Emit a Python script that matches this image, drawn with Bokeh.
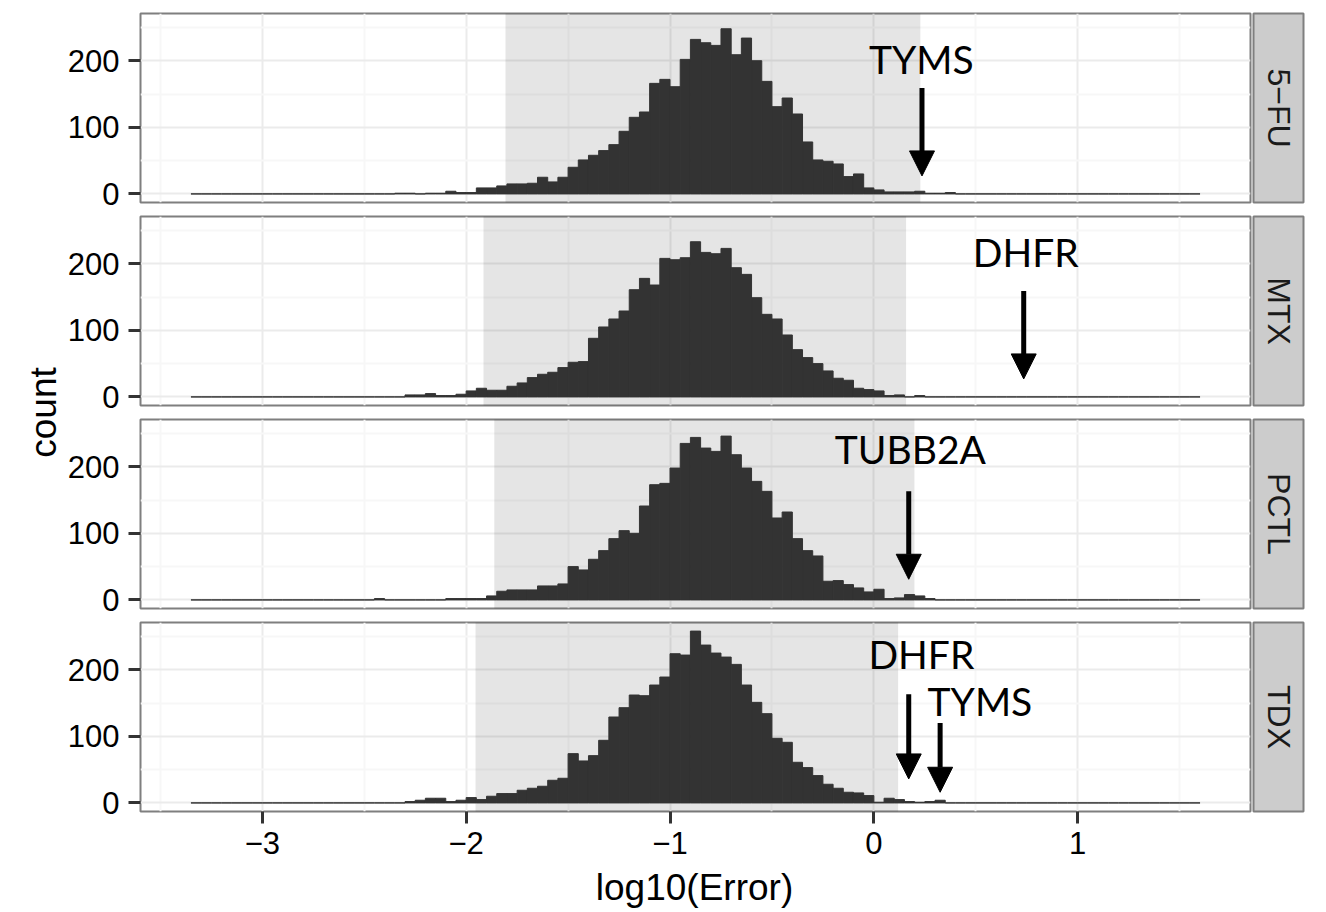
import math
from bokeh.plotting import figure
from bokeh.layouts import row, column
from bokeh.models import Range1d, FixedTicker, Arrow, NormalHead
from bokeh.core.properties import value
from bokeh.embed import file_html
from bokeh.resources import INLINE

# ---------------- data ----------------
DRUGS = ["5\u2212FU", "MTX", "PCTL", "TDX"]

BIN_WIDTH = 0.05
HIST_START = -3.35      # first bin left edge (all panels share the bins)
HIST_END = 1.60         # last bin right edge
WINDOW_START = -2.45    # left edge of the first bin listed below (others are 0)

COUNTS_5FU = [0, 0, 1, 1, 0, 1, 1, 4, 2, 2, 9, 9, 12, 15, 15, 16, 25, 18, 25, 40,
              51, 58, 65, 74, 94, 115, 123, 166, 172, 161, 202, 232, 227, 223, 248,
              209, 234, 200, 169, 131, 144, 120, 78, 51, 49, 45, 26, 30, 9, 6,
              3, 3, 3, 4, 1, 1, 2, 0]
COUNTS_MTX = [0, 0, 0, 3, 3, 5, 2, 2, 4, 9, 13, 10, 10, 16, 21, 29, 34, 37, 44, 52,
              53, 88, 105, 117, 129, 161, 178, 168, 208, 206, 209, 233, 217, 215, 223,
              194, 184, 149, 124, 117, 93, 71, 59, 50, 39, 28, 25, 13, 11, 9,
              2, 3, 0, 2, 0, 0, 0, 0]
COUNTS_PCTL = [2, 0, 0, 0, 0, 0, 0, 2, 2, 2, 2, 6, 13, 15, 15, 15, 21, 21, 24, 50,
               45, 61, 74, 92, 104, 100, 141, 173, 175, 198, 235, 244, 228, 223, 246,
               218, 198, 178, 163, 123, 132, 92, 74, 66, 28, 29, 23, 18, 12, 16,
               2, 3, 8, 6, 2, 0, 0, 0]
COUNTS_TDX = [0, 0, 0, 2, 4, 7, 7, 2, 4, 8, 5, 10, 14, 14, 19, 22, 25, 34, 37, 74,
              63, 71, 94, 129, 143, 162, 161, 177, 189, 224, 222, 258, 237, 225, 219,
              208, 177, 151, 134, 97, 91, 61, 53, 41, 28, 22, 16, 15, 11, 1,
              7, 5, 2, 1, 2, 4, 0, 0]
PANEL_COUNTS = [COUNTS_5FU, COUNTS_MTX, COUNTS_PCTL, COUNTS_TDX]

SHADE_LO = [-1.807, -1.915, -1.862, -1.954]
SHADE_HI = [0.228, 0.158, 0.199, 0.119]

ANN_PANEL = [0, 1, 2, 3, 3]
ANN_GENE = ["TYMS", "DHFR", "TUBB2A", "DHFR", "TYMS"]
ANN_VALUE = [0.236, 0.735, 0.171, 0.171, 0.325]
ARROW_TAIL = [159, 159, 163, 163, 120]
ARROW_TIP = [27, 27, 31, 36, 16]
LABEL_X = [0.233, 0.745, 0.179, 0.233, 0.52]
LABEL_Y = [202, 217, 226, 223, 153]

X_TICKS = [-3, -2, -1, 0, 1]
X_TICK_LABELS = ["\u22123", "\u22122", "\u22121", "0", "1"]
X_MINOR = [-3.5, -2.5, -1.5, -0.5, 0.5, 1.5]
Y_TICKS = [0, 100, 200]
Y_MINOR = [50, 150, 250]

X_TITLE = "log10(Error)"
Y_TITLE = "count"

# ---------------- derived bins ----------------
n_bins = int(round((HIST_END - HIST_START) / BIN_WIDTH))
offset = int(round((WINDOW_START - HIST_START) / BIN_WIDTH))
lefts = [HIST_START + k * BIN_WIDTH for k in range(n_bins)]
rights = [l + BIN_WIDTH for l in lefts]

def full_counts(window):
    out = [0] * n_bins
    for k, c in enumerate(window):
        out[offset + k] = c
    return out

# ---------------- layout constants ----------------
X_RANGE = (-3.5975, 1.8475)
Y_RANGE = (-12.9, 270.9)
FRAME_W = 1112
FRAME_H = 189
COUNT_W = 64
BORDER_LEFT = 74
STRIP_W = 50
ROW_BORDERS = [(13, 13), (1, 13), (1, 13), (1, 54)]
TITLE_H = 46

FONT = "Liberation Sans"
TICK_SIZE = "31px"
TITLE_SIZE = "37px"
BAR_COLOR = "#333333"
BORDER_COLOR = "#7f7f7f"
PANEL_FIG_W = BORDER_LEFT + FRAME_W + 2


def make_panel(i):
    top_b, bot_b = ROW_BORDERS[i]
    last = (i == 3)
    p = figure(width=PANEL_FIG_W, height=top_b + FRAME_H + bot_b,
               x_range=Range1d(*X_RANGE), y_range=Range1d(*Y_RANGE),
               output_backend="svg", toolbar_location=None,
               min_border=0, min_border_left=BORDER_LEFT, min_border_right=2,
               min_border_top=top_b, min_border_bottom=bot_b,
               x_axis_location="below" if last else None)
    p.background_fill_color = "white"
    p.border_fill_color = "white"
    p.outline_line_color = BORDER_COLOR
    p.outline_line_width = 2

    p.xgrid.ticker = FixedTicker(ticks=X_TICKS, minor_ticks=X_MINOR)
    p.ygrid.ticker = FixedTicker(ticks=Y_TICKS, minor_ticks=Y_MINOR)
    for g in (p.xgrid, p.ygrid):
        g.grid_line_color = "#ebebeb"
        g.grid_line_width = 2
        g.minor_grid_line_color = "#f7f7f7"
        g.minor_grid_line_width = 2

    ya = p.yaxis[0]
    ya.ticker = FixedTicker(ticks=Y_TICKS)
    ya.axis_line_color = None
    ya.major_tick_out = 12
    ya.major_tick_in = 0
    ya.major_tick_line_width = 3
    ya.major_tick_line_color = "#333333"
    ya.minor_tick_line_color = None
    ya.major_label_text_font = FONT
    ya.major_label_text_font_size = TICK_SIZE
    ya.major_label_text_color = "black"
    ya.major_label_standoff = 9

    if last:
        xa = p.xaxis[0]
        xa.ticker = FixedTicker(ticks=X_TICKS)
        xa.major_label_overrides = {float(t): lab for t, lab in zip(X_TICKS, X_TICK_LABELS)}
        xa.axis_line_color = None
        xa.major_tick_out = 12
        xa.major_tick_in = 0
        xa.major_tick_line_width = 3
        xa.major_tick_line_color = "#333333"
        xa.minor_tick_line_color = None
        xa.major_label_text_font = FONT
        xa.major_label_text_font_size = TICK_SIZE
        xa.major_label_text_color = "black"
        xa.major_label_standoff = 8

    # shaded interval
    p.quad(left=[SHADE_LO[i]], right=[SHADE_HI[i]],
           bottom=[Y_RANGE[0] - 10], top=[Y_RANGE[1] + 10],
           fill_color="black", fill_alpha=0.1, line_color=None)

    # histogram
    p.quad(left=lefts, right=rights, bottom=0, top=full_counts(PANEL_COUNTS[i]),
           fill_color=BAR_COLOR, line_color=BAR_COLOR, line_width=1)

    # annotations
    for k, pan in enumerate(ANN_PANEL):
        if pan != i:
            continue
        p.add_layout(Arrow(end=NormalHead(size=25, fill_color="black", line_color="black", line_width=1),
                           x_start=ANN_VALUE[k], y_start=ARROW_TAIL[k],
                           x_end=ANN_VALUE[k], y_end=ARROW_TIP[k],
                           line_width=5, line_color="black"))
    xs = [LABEL_X[k] for k in range(len(ANN_PANEL)) if ANN_PANEL[k] == i]
    ys = [LABEL_Y[k] for k in range(len(ANN_PANEL)) if ANN_PANEL[k] == i]
    ts = [ANN_GENE[k] for k in range(len(ANN_PANEL)) if ANN_PANEL[k] == i]
    p.text(x=xs, y=ys, text=ts, text_font=value("Lato"), text_font_size="39px",
           text_align="center", text_baseline="middle", text_color="black")
    return p


def make_strip(i):
    top_b, bot_b = ROW_BORDERS[i]
    s = figure(width=1 + STRIP_W + 2, height=top_b + FRAME_H + bot_b,
               x_range=Range1d(0, 1), y_range=Range1d(0, 1),
               output_backend="svg", toolbar_location=None,
               min_border=0, min_border_left=1, min_border_right=2,
               min_border_top=top_b, min_border_bottom=bot_b,
               x_axis_location=None, y_axis_location=None)
    s.grid.visible = False
    s.background_fill_color = "#cccccc"
    s.border_fill_color = "white"
    s.outline_line_color = BORDER_COLOR
    s.outline_line_width = 2
    s.text(x=[0.5], y=[0.5], text=[DRUGS[i]], angle=-math.pi / 2,
           text_align="center", text_baseline="middle",
           text_font=value(FONT), text_font_size="32px", text_color="#1a1a1a")
    return s


# x-axis title strip (aligned with the panel frames)
tf = figure(width=PANEL_FIG_W, height=TITLE_H, x_range=Range1d(*X_RANGE), y_range=Range1d(0, TITLE_H),
            output_backend="svg", toolbar_location=None, min_border=0,
            min_border_left=BORDER_LEFT, min_border_right=2,
            x_axis_location=None, y_axis_location=None)
tf.grid.visible = False
tf.outline_line_color = None
tf.background_fill_color = "white"
tf.border_fill_color = "white"
tf.text(x=[(X_RANGE[0] + X_RANGE[1]) / 2], y=[TITLE_H - 22], text=[X_TITLE],
        text_align="center", text_baseline="middle",
        text_font=value(FONT), text_font_size=TITLE_SIZE, text_color="black")

total_h = sum(t + FRAME_H + b for t, b in ROW_BORDERS) + TITLE_H
cf = figure(width=COUNT_W, height=total_h, x_range=Range1d(0, COUNT_W), y_range=Range1d(0, total_h),
            output_backend="svg", toolbar_location=None, min_border=0,
            x_axis_location=None, y_axis_location=None)
cf.grid.visible = False
cf.outline_line_color = None
cf.background_fill_color = "white"
cf.border_fill_color = "white"
panel_top = ROW_BORDERS[0][0]
panel_bottom = sum(t + FRAME_H + b for t, b in ROW_BORDERS) - ROW_BORDERS[3][1]
cf.text(x=[43], y=[total_h - (panel_top + panel_bottom) / 2], text=[Y_TITLE], angle=math.pi / 2,
        text_align="center", text_baseline="middle",
        text_font=value(FONT), text_font_size=TITLE_SIZE, text_color="black")

rows = [row(make_panel(i), make_strip(i)) for i in range(4)]
layout = row(cf, column(*rows, tf))

open("out.html", "w").write(file_html(layout, INLINE))
